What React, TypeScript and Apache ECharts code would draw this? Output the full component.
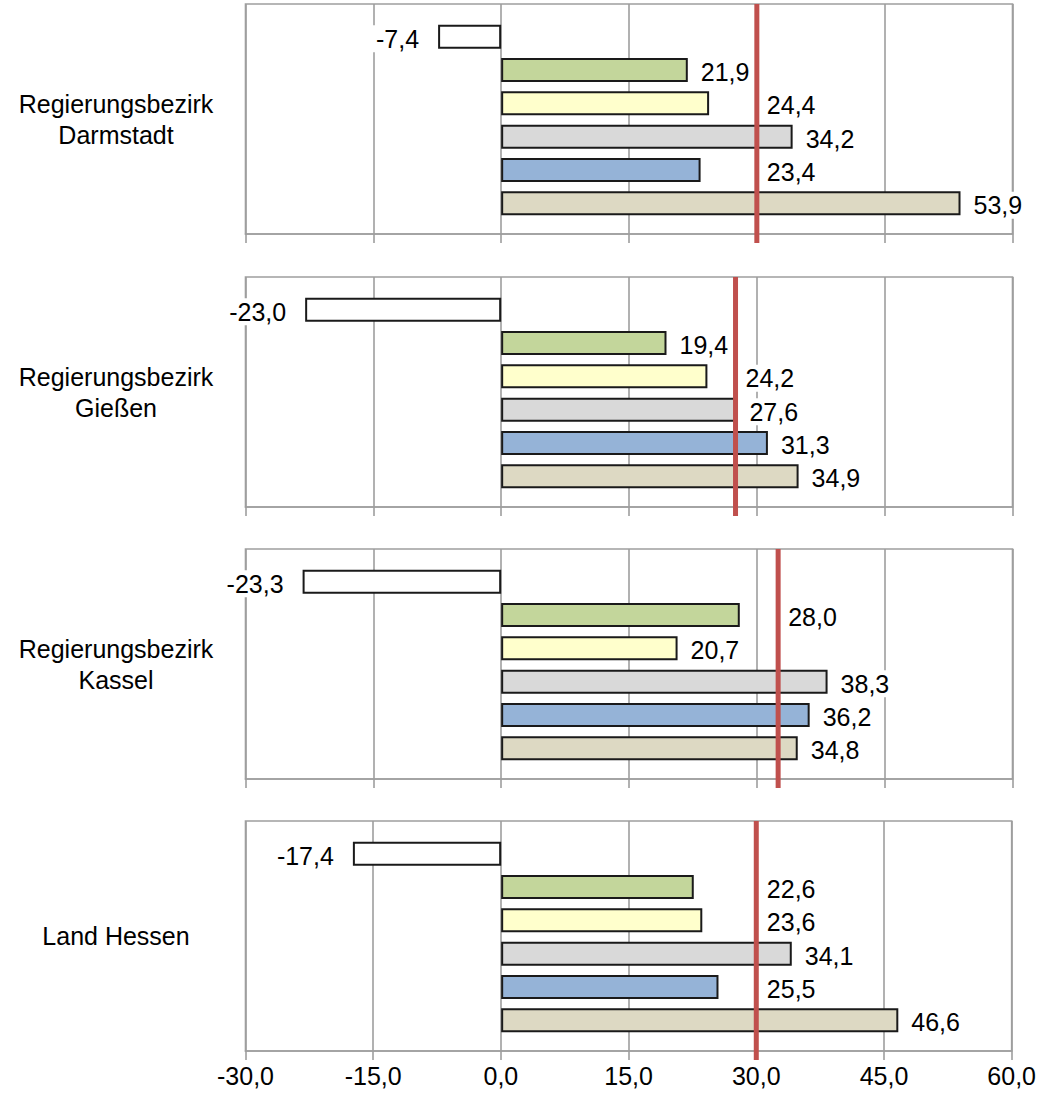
import React, { useEffect, useRef } from "react";
import * as echarts from "echarts";

const REGIONS = [
  "Regierungsbezirk\nDarmstadt",
  "Regierungsbezirk\nGießen",
  "Regierungsbezirk\nKassel",
  "Land Hessen",
];
const CATEGORIES = ["1", "2", "3", "4", "5", "6"];
const DARMSTADT = [-7.4, 21.9, 24.4, 34.2, 23.4, 53.9];
const GIESSEN = [-23.0, 19.4, 24.2, 27.6, 31.3, 34.9];
const KASSEL = [-23.3, 28.0, 20.7, 38.3, 36.2, 34.8];
const HESSEN = [-17.4, 22.6, 23.6, 34.1, 25.5, 46.6];
const REFERENCE = [30.0, 27.5, 32.5, 30.0];
const X_MIN = -30;
const X_MAX = 60;
const X_STEP = 15;

const PANELS = [DARMSTADT, GIESSEN, KASSEL, HESSEN];

const BAR_COLORS = ["#FFFFFF", "#C3D69B", "#FFFFCC", "#D9D9D9", "#95B3D7", "#DDD9C3"];
const FONT = "'Liberation Sans', Arial, sans-serif";
const GRID_COLOR = "#9E9E9E";
const PANEL_TOPS = [4, 277, 549, 821];
const PANEL_H = 230;
const LEFT = 245.5;
const RIGHT = 1039 - 1012.5;
const FS = 25;
const PAD = 6;

const fmt = (v: number) => v.toFixed(1).replace(".", ",");
const textWidth = (s: string) => {
  let w = 0;
  for (const ch of s) {
    if (ch === ",") w += 0.278;
    else if (ch === "-") w += 0.333;
    else w += 0.556;
  }
  return w * FS;
};

function buildOption() {
  const grid: any[] = [];
  const xAxis: any[] = [];
  const yAxis: any[] = [];
  const series: any[] = [];

  PANELS.forEach((values, i) => {
    const top = PANEL_TOPS[i];
    const last = i === PANELS.length - 1;
    grid.push({
      left: LEFT,
      right: RIGHT,
      top,
      height: PANEL_H,
      show: true,
      borderColor: GRID_COLOR,
      borderWidth: 1.6,
      backgroundColor: "transparent",
      containLabel: false,
    });
    grid.push({
      left: LEFT,
      right: RIGHT,
      top: top + 16,
      height: 200,
      containLabel: false,
    });
    xAxis.push({
      type: "value",
      gridIndex: 2 * i,
      min: X_MIN,
      max: X_MAX,
      interval: X_STEP,
      axisLine: { show: true, lineStyle: { color: GRID_COLOR, width: 1.6 } },
      axisTick: { show: true, length: 9, lineStyle: { color: GRID_COLOR, width: 1.6 } },
      splitLine: { show: true, lineStyle: { color: GRID_COLOR, width: 1.6 } },
      axisLabel: {
        show: last,
        formatter: (v: number) => fmt(v),
        fontSize: FS,
        fontFamily: FONT,
        color: "#000",
        margin: 12,
      },
    });
    xAxis.push({
      type: "value",
      gridIndex: 2 * i + 1,
      min: X_MIN,
      max: X_MAX,
      interval: X_STEP,
      show: false,
    });
    yAxis.push({
      type: "category",
      gridIndex: 2 * i,
      data: [REGIONS[i]],
      axisLine: { show: false },
      axisTick: { show: false },
      splitLine: { show: false },
      axisLabel: {
        show: true,
        align: "center",
        margin: LEFT - 116,
        fontSize: FS,
        lineHeight: 31,
        fontFamily: FONT,
        color: "#000",
        padding: [9, 0, 0, 0],
      },
    });
    yAxis.push({
      type: "category",
      gridIndex: 2 * i + 1,
      data: CATEGORIES,
      inverse: true,
      show: false,
    });

    const ref = REFERENCE[i];
    series.push({
      type: "bar",
      xAxisIndex: 2 * i + 1,
      yAxisIndex: 2 * i + 1,
      barWidth: 24,
      z: 2,
      data: values.map((v, k) => ({
        value: v,
        itemStyle: { color: BAR_COLORS[k], borderColor: "#1A1A1A", borderWidth: 2 },
      })),
    });
    series.push({
      type: "custom",
      xAxisIndex: 2 * i + 1,
      yAxisIndex: 2 * i + 1,
      z: 3,
      clip: false,
      data: values.map((v, k) => [v, k]),
      renderItem: (params: any, api: any) => {
        const v = api.value(0);
        const k = api.value(1);
        const p = api.coord([v, k]);
        const redX = api.coord([ref, k])[0];
        const text = fmt(v);
        let x: number;
        let align: string;
        if (v < 0) {
          x = p[0] - 19 + PAD;
          align = "right";
        } else {
          let start = p[0] + 13;
          const w = textWidth(text);
          if (v < ref && start + w + 4 > redX) start = redX + 10;
          x = start - PAD;
          align = "left";
        }
        return {
          type: "text",
          x,
          y: p[1] + 2,
          style: {
            text,
            fontSize: FS,
            fontFamily: FONT,
            fill: "#000",
            align,
            verticalAlign: "middle",
            backgroundColor: "#FFFFFF",
            padding: [2, PAD, 0, PAD],
          },
        };
      },
    });
    series.push({
      type: "custom",
      xAxisIndex: 2 * i,
      yAxisIndex: 2 * i,
      z: 5,
      clip: false,
      data: [[ref, 0]],
      renderItem: (params: any, api: any) => {
        const x = api.coord([api.value(0), 0])[0];
        const cs = params.coordSys;
        return {
          type: "line",
          shape: { x1: x, y1: cs.y, x2: x, y2: cs.y + cs.height + 9 },
          style: { stroke: "#C0504D", lineWidth: 5 },
        };
      },
    });
  });

  return {
    animation: false,
    backgroundColor: "#FFFFFF",
    grid,
    xAxis,
    yAxis,
    series,
  };
}

export default function App() {
  const ref = useRef<HTMLDivElement>(null);
  useEffect(() => {
    if (!ref.current) return;
    const chart = echarts.init(ref.current, undefined, { renderer: "svg" });
    chart.setOption(buildOption() as any);
    return () => chart.dispose();
  }, []);
  return (
    <div
      ref={ref}
      style={{ position: "absolute", left: 0, top: 0, width: 1039, height: 1097 }}
    />
  );
}
